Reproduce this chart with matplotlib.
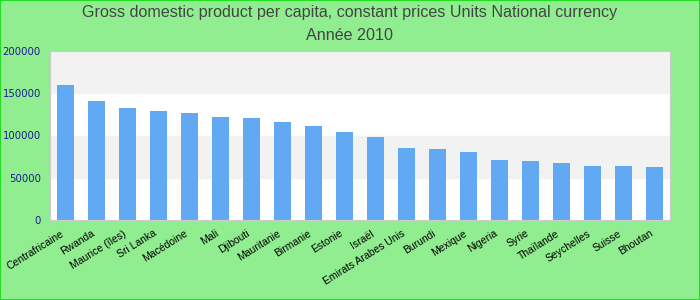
import matplotlib
matplotlib.use("Agg")
import matplotlib.pyplot as plt
from matplotlib.patches import Rectangle

countries = ["Centrafricaine", "Rwanda", "Maurice (îles)", "Sri Lanka", "Macédoine",
             "Mali", "Djibouti", "Mauritanie", "Birmanie", "Estonie", "Israël",
             "Emirats Arabes Unis", "Burundi", "Mexique", "Nigeria", "Syrie",
             "Thaïlande", "Seychelles", "Suisse", "Bhoutan"]
gdp = [159800, 140800, 132500, 129000, 126600, 121900, 120700, 116000, 111200,
       104100, 98200, 85200, 84000, 80500, 71000, 69800, 67500, 63900, 63900, 62700]
yticks = [0, 50000, 100000, 150000, 200000]

bg = "#90ee90"
fig = plt.figure(figsize=(7, 3), dpi=100, facecolor=bg)
ax = fig.add_axes([50 / 700, 80 / 300, 620 / 700, 169 / 300])
ax.set_facecolor("white")

# alternating bands
ax.axhspan(50000, 100000, color="#f2f2f2", zorder=0)
ax.axhspan(150000, 200000, color="#f2f2f2", zorder=0)

x = range(len(countries))
ax.bar(x, gdp, width=0.55, color="#62a9f4", zorder=2)

ax.set_xlim(-0.5, len(countries) - 0.5)
ax.set_ylim(0, 200000)
ax.set_yticks(yticks)
ax.set_yticklabels([str(v) for v in yticks], color="#1c1c8a", fontsize=7.3)
ax.set_xticks(list(x))
ax.set_xticklabels(countries, rotation=32, ha="right", va="top", fontsize=7.5,
                   color="black", family="Liberation Sans")
ax.tick_params(axis="y", length=0, pad=6.5)
ax.tick_params(axis="x", length=0, pad=6)
for s in ax.spines.values():
    s.set_color("#cccccc")

fig.text(0.5, 1 - 13 / 300, "Gross domestic product per capita, constant prices Units National currency",
         ha="center", va="center", fontsize=11.6, color="#444444", family="Liberation Sans")
fig.text(0.5, 1 - 36 / 300, "Année 2010",
         ha="center", va="center", fontsize=11.6, color="#444444", family="Liberation Sans")

# green frame
fig.patches.append(Rectangle((0, 0), 1, 1, transform=fig.transFigure, fill=False,
                             edgecolor="#22dd22", linewidth=1.5))

fig.savefig("out.png", dpi=100, facecolor=bg)
